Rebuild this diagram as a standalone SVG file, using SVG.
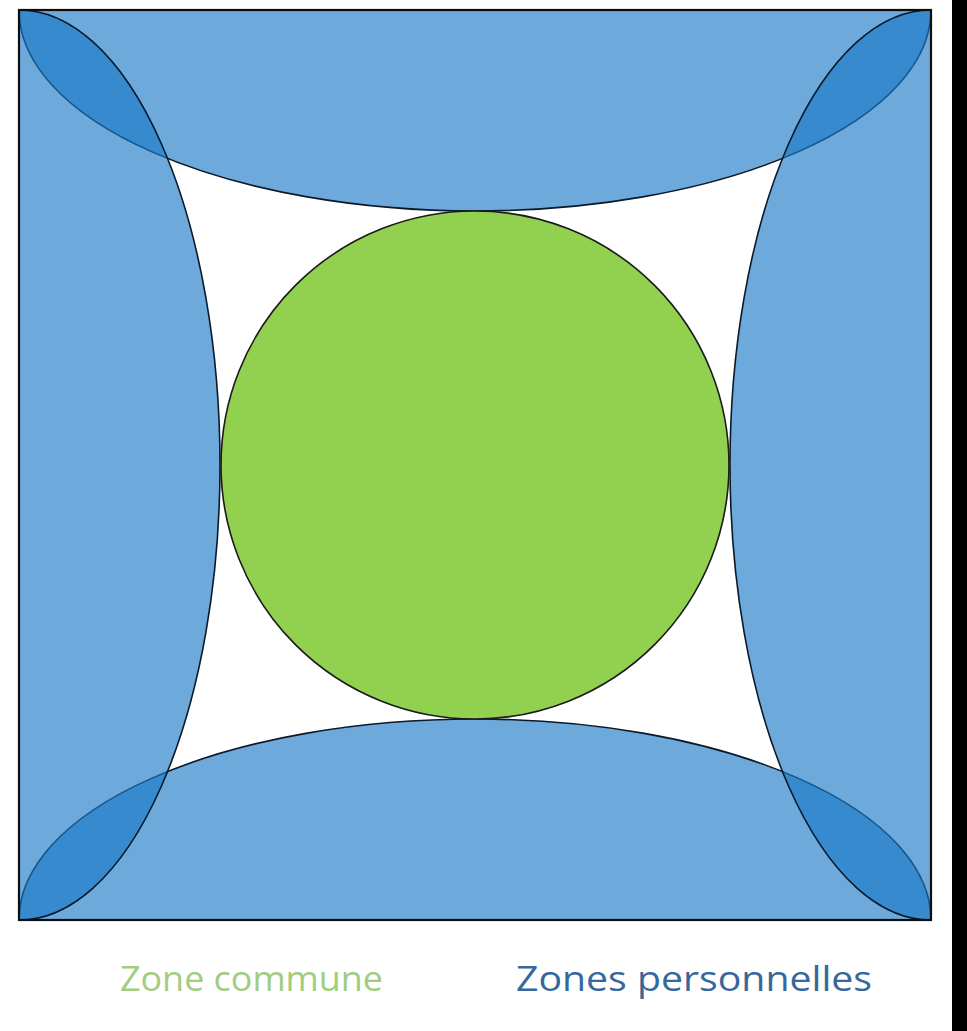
<svg xmlns="http://www.w3.org/2000/svg" width="967" height="1031" viewBox="0 0 967 1031">
<defs>
<clipPath id="sq"><rect x="19" y="10" width="912" height="910"/></clipPath>
<style>
.zone{fill:#1B78C6;fill-opacity:0.64;stroke:#0a1a2a;stroke-width:1.6}
.lbl{font-family:"Open Sans","Noto Sans",sans-serif;font-size:35px}
</style>
</defs>
<rect width="967" height="1031" fill="#ffffff"/>
<rect x="952" y="0" width="15" height="1031" fill="#000000"/>
<g id="zones" clip-path="url(#sq)">
<ellipse id="zone-top" class="zone" cx="475" cy="10" rx="456" ry="201"/>
<ellipse id="zone-bottom" class="zone" cx="475" cy="920" rx="456" ry="201"/>
<ellipse id="zone-left" class="zone" cx="19" cy="465" rx="201" ry="455"/>
<ellipse id="zone-right" class="zone" cx="931" cy="465" rx="201" ry="455"/>
</g>
<g id="common">
<circle cx="475" cy="465" r="254" fill="#92D050" stroke="#1a1a1a" stroke-width="1.6"/>
</g>
<g id="frame">
<rect x="19" y="10" width="912" height="910" fill="none" stroke="#0d0d0d" stroke-width="2.2"/>
</g>
<g id="connectors"/>
<g id="legend">
<text class="lbl" x="120" y="991" fill="#A2CC80" textLength="263" lengthAdjust="spacingAndGlyphs">Zone commune</text>
<text class="lbl" x="516" y="991" fill="#36689C" textLength="356" lengthAdjust="spacingAndGlyphs">Zones personnelles</text>
</g>
</svg>
